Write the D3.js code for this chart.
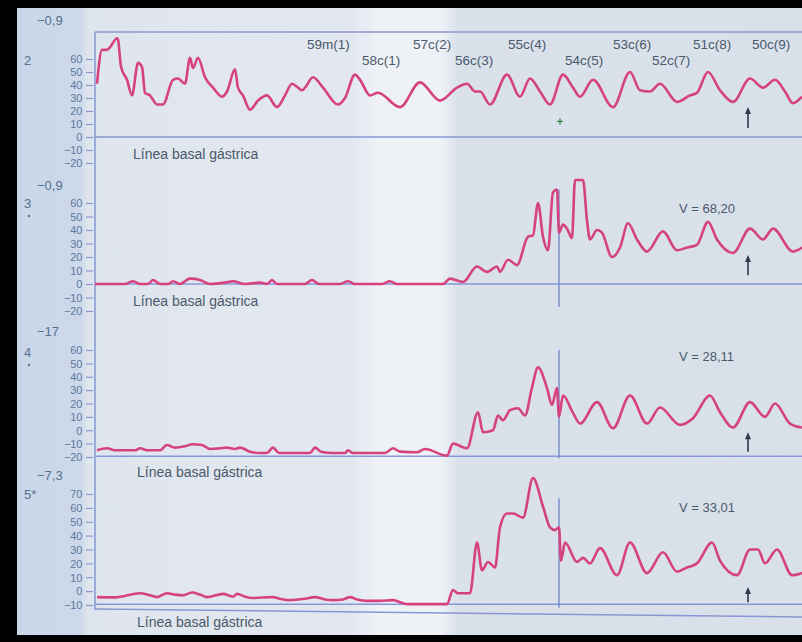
<!DOCTYPE html>
<html>
<head>
<meta charset="utf-8">
<script src="https://cdn.jsdelivr.net/npm/d3@7/dist/d3.min.js"></script>
<style>
  body { margin: 0; background: #000; }
  svg { display: block; }
  .tick text { font-family: "Liberation Sans Narrow", "Arial Narrow", "Liberation Sans", sans-serif; }
</style>
</head>
<body>
<div id="chart"></div>
<script>
// tiempo (px de registro desde el origen) y presión en cada canal
const canal2 = [[2,41],[7,67],[12,67],[15,69],[22,76],[23,75],[26,54],[32,44],[37,32],[43,57],[47,54],[50,34],[55,32],[62,25],[68,25],[78,44],[83,45],[90,41],[95,61],[98,53],[103,61],[110,46],[118,38],[127,31],[132,35],[140,52],[143,38],[148,32],[155,21],[163,28],[172,32],[182,23],[190,32],[197,41],[203,38],[207,36],[210,38],[218,46],[228,38],[243,25],[250,30],[260,48],[265,44],[275,32],[283,34],[305,23],[325,42],[345,28],[362,38],[372,41],[380,35],[385,35],[395,25],[412,48],[425,31],[435,45],[445,35],[455,25],[468,48],[478,38],[485,31],[498,44],[518,23],[535,50],[545,36],[555,35],[565,41],[582,27],[595,32],[602,34],[613,50],[625,36],[638,27],[655,45],[668,38],[680,44],[690,35],[698,26],[707,31]];

const canal3 = [[0,0],[30,0],[38,2],[45,0],[53,0],[58,3],[65,0],[73,0],[78,2],[85,0],[95,4],[105,3],[115,0],[130,1],[138,2],[150,0],[165,1],[172,0],[177,3],[182,0],[210,0],[217,3],[224,0],[245,0],[253,2],[260,0],[287,0],[295,2],[302,0],[348,0],[355,4],[368,1.5],[382,13],[392,9],[402,13],[405,9],[413,18],[422,14],[433,35],[438,36],[443,60],[448,35],[453,25],[458,68],[462,70],[464,38],[468,44],[472,41],[477,34],[480,77],[488,77],[492,47],[495,33],[502,40],[507,38],[517,20],[525,27],[533,45],[542,33],[552,24],[568,39],[582,25],[592,27],[602,29],[613,46],[622,33],[638,23],[655,41],[668,33],[678,41],[698,24],[707,27]];

const canal4 = [[2,-15],[12,-13.5],[20,-15],[40,-15],[45,-13.5],[52,-15],[65,-15],[72,-11],[80,-13],[90,-12],[98,-10.5],[107,-11],[115,-14],[125,-13.5],[132,-13],[140,-14],[145,-13],[155,-16],[165,-17],[172,-17],[178,-13],[184,-17],[215,-17],[220,-13],[226,-16],[238,-17],[250,-17],[253,-15],[258,-17],[290,-17],[298,-13.5],[305,-16],[322,-16.5],[330,-14],[352,-19],[358,-10],[372,-13.5],[383,13.5],[388,-1.5],[398,0],[403,11],[408,7.5],[415,15],[423,16.5],[430,11],[437,32],[443,47],[452,31.5],[457,19],[462,31.5],[464,10],[468,26],[478,13],[485,5],[502,21],[518,1.5],[535,26],[552,5],[565,17],[585,4],[598,9],[615,26],[625,13.5],[638,2],[655,21],[670,10],[680,20],[695,5],[707,2]];

const canal5 = [[2,-4.3],[20,-4.5],[45,-1.5],[55,-3],[62,-4.3],[72,-1.5],[80,-2.5],[88,-3],[97,-1],[105,-2.5],[112,-4.3],[128,-2],[138,-4],[142,-2],[150,-4],[158,-5],[178,-4.3],[185,-5.5],[195,-6.5],[210,-5.5],[220,-4.3],[230,-6],[238,-6.5],[248,-6],[255,-4.3],[262,-6],[272,-7],[285,-7],[298,-6.5],[305,-8],[313,-9.4],[352,-9.4],[358,0.7],[363,-1.5],[375,-1.5],[382,35],[387,15],[393,21],[400,17],[405,46],[412,56],[418,56],[428,53],[438,81.5],[448,61],[455,46],[460,44],[464,46],[466,22],[470,35],[482,21],[488,24],[495,20],[505,31],[522,11.5],[535,35],[552,13],[568,28],[582,14],[592,17],[602,20],[617,35],[625,22],[642,11.5],[655,30],[663,30],[670,20],[682,30],[697,11.5],[707,13]];

const canales = ['2', '3', '4', '5*'];
const basales = ['\u22120,9', '\u22120,9', '\u221217', '\u22127,3'];
const volumenes = [null, 'V = 68,20', 'V = 28,11', 'V = 33,01'];
const lineaCero = [0, 0, -19.5, -9.4];
const ticks1 = [60, 50, 40, 30, 20, 10, 0, -10, -20];
const ticks4 = [70, 60, 50, 40, 30, 20, 10, 0, -10];

// contracciones marcadas en el canal 2
const contracciones = ['59m(1)', '58c(1)', '57c(2)', '56c(3)', '55c(4)', '54c(5)', '53c(6)', '52c(7)', '51c(8)', '50c(9)'];
const tContraccion = [212, 267, 318, 360, 413, 470, 518, 557, 598, 657];
const filaContraccion = [0, 1, 0, 1, 0, 1, 0, 1, 0, 0];

const tComida = 464;      // línea vertical en canales 3-5
const tFlecha = 653;      // flecha hacia arriba
const marcaMas = [465, 12];

const W = 802, H = 642;
const X0 = 95, X1 = 802;

const paneles = [
    {datos: canal2, ticks: ticks1, y0: 163, y1: 59, vlinea: null, flecha: [7, 23]},
    {datos: canal3, ticks: ticks1, y0: 311, y1: 203, vlinea: [-17, 70], flecha: [6.5, 21.5]},
    {datos: canal4, ticks: ticks1, y0: 457, y1: 350, vlinea: [-21, 60], flecha: [-16, -1.5]},
    {datos: canal5, ticks: ticks4, y0: 605, y1: 494, vlinea: [-12, 67], flecha: [-8, 3]}
];
const etiquetaY = [[25, 65], [190, 208], [336, 357], [480, 499]];
const basalTextoY = [159, 306, 477, 627];
const volumenY = [0, 213, 361, 512];

const LINE = '#8797d6';
const TRAZO = '#d5427d';
const TEXTO = '#4a596b';
const FUENTE = 'Liberation Sans, Arial, sans-serif';

const svg = d3.select('#chart').append('svg')
    .attr('width', W)
    .attr('height', H);

// fondo del papel escaneado
const defs = svg.append('defs');
const grad = defs.append('linearGradient').attr('id', 'papel')
    .attr('x1', 0).attr('x2', 1).attr('y1', 0).attr('y2', 0);
[[0, '#c8d6e8'], [0.1, '#cdd9ea'], [0.11, '#dfe5ee'], [0.44, '#e3e8f0'], [0.47, '#eef1f6'],
 [0.55, '#eef1f6'], [0.57, '#dae1eb'], [1, '#d8e0ea']].forEach(s => {
    grad.append('stop').attr('offset', s[0]).attr('stop-color', s[1]);
});
svg.append('rect').attr('width', W).attr('height', H).attr('fill', 'url(#papel)');

const x = d3.scaleLinear().domain([0, X1 - X0]).range([X0, X1]);

const g = svg.append('g');

// eje vertical y bordes
g.append('line').attr('x1', X0).attr('x2', X0).attr('y1', 32).attr('y2', 610)
    .attr('stroke', LINE).attr('stroke-width', 1.5);
g.append('line').attr('x1', X0).attr('x2', X1).attr('y1', 32).attr('y2', 32)
    .attr('stroke', LINE).attr('stroke-width', 1.5);
g.append('line').attr('x1', X0).attr('x2', X1).attr('y1', 609).attr('y2', 617)
    .attr('stroke', LINE).attr('stroke-width', 1.5);

paneles.forEach((p, i) => {
    const y = d3.scaleLinear().domain([p.ticks[p.ticks.length - 1], p.ticks[0]]).range([p.y0, p.y1]);
    const pg = g.append('g');

    const axis = d3.axisLeft(y).tickValues(p.ticks).tickSize(7).tickPadding(4)
        .tickFormat(d => d < 0 ? '\u2212' + Math.abs(d) : d);
    const ax = pg.append('g').attr('transform', `translate(${X0 - 2},0)`).call(axis);
    ax.select('.domain').remove();
    ax.selectAll('line').attr('stroke', LINE).attr('stroke-width', 1.2);
    ax.selectAll('text').attr('fill', '#5f77a0').attr('font-size', 11)
        .attr('dy', '0.35em').attr('letter-spacing', -0.3);

    // línea de referencia
    pg.append('line').attr('x1', X0).attr('x2', X1)
        .attr('y1', y(lineaCero[i])).attr('y2', y(lineaCero[i]))
        .attr('stroke', LINE).attr('stroke-width', 1.5);

    if (p.vlinea) {
        pg.append('line').attr('x1', x(tComida)).attr('x2', x(tComida))
            .attr('y1', y(p.vlinea[0])).attr('y2', y(p.vlinea[1]))
            .attr('stroke', '#6f86c4').attr('stroke-width', 1.3);
    }

    const line = d3.line()
        .x(d => x(d[0]))
        .y(d => y(d[1]))
        .curve(d3.curveMonotoneX);
    pg.append('path').datum(p.datos)
        .attr('d', line)
        .attr('fill', 'none')
        .attr('stroke', TRAZO)
        .attr('stroke-width', 2.6)
        .attr('stroke-linejoin', 'round');

    // flecha
    const fx = x(tFlecha), fb = y(p.flecha[0]), ft = y(p.flecha[1]);
    pg.append('line').attr('x1', fx).attr('x2', fx).attr('y1', fb).attr('y2', ft + 4)
        .attr('stroke', '#2f3a4a').attr('stroke-width', 1.6);
    pg.append('path').attr('d', `M${fx},${ft}L${fx - 3},${ft + 7}L${fx + 3},${ft + 7}Z`)
        .attr('fill', '#2f3a4a');

    // textos
    pg.append('text').attr('x', 37).attr('y', etiquetaY[i][0])
        .attr('font-family', FUENTE).attr('font-size', 13)
        .attr('fill', '#56708f').text(basales[i]);
    pg.append('text').attr('x', 24).attr('y', etiquetaY[i][1])
        .attr('font-family', FUENTE).attr('font-size', 13)
        .attr('fill', '#56708f').text(canales[i]);
    if (i === 1 || i === 2) {
        pg.append('circle').attr('cx', 29).attr('cy', etiquetaY[i][1] + 8).attr('r', 1.2)
            .attr('fill', '#56708f');
    }
    pg.append('text').attr('x', i < 2 ? 133 : 137).attr('y', basalTextoY[i])
        .attr('font-family', FUENTE).attr('font-size', 14)
        .attr('fill', TEXTO).text('Línea basal gástrica');
    if (volumenes[i]) {
        pg.append('text').attr('x', 679).attr('y', volumenY[i])
            .attr('font-family', FUENTE).attr('font-size', 13)
            .attr('fill', TEXTO).text(volumenes[i]);
    }

    if (i === 0) {
        pg.selectAll('.contr').data(contracciones).enter().append('text')
            .attr('class', 'contr')
            .attr('x', (d, k) => x(tContraccion[k]))
            .attr('y', (d, k) => filaContraccion[k] ? 65 : 49)
            .attr('font-family', FUENTE).attr('font-size', 13.5)
            .attr('fill', TEXTO).text(d => d);
        const mx = x(marcaMas[0]), my = y(marcaMas[1]);
        pg.append('path').attr('d', `M${mx - 3},${my}H${mx + 3}M${mx},${my - 3}V${my + 3}`)
            .attr('stroke', '#3c8a50').attr('stroke-width', 1.4);
    }
});

// marco negro del escaneo
svg.append('rect').attr('x', 0).attr('y', 0).attr('width', 17).attr('height', H).attr('fill', '#000');
svg.append('rect').attr('x', 0).attr('y', 0).attr('width', W).attr('height', 8).attr('fill', '#000');
svg.append('rect').attr('x', 0).attr('y', 635).attr('width', W).attr('height', 7).attr('fill', '#000');
</script>
</body>
</html>
